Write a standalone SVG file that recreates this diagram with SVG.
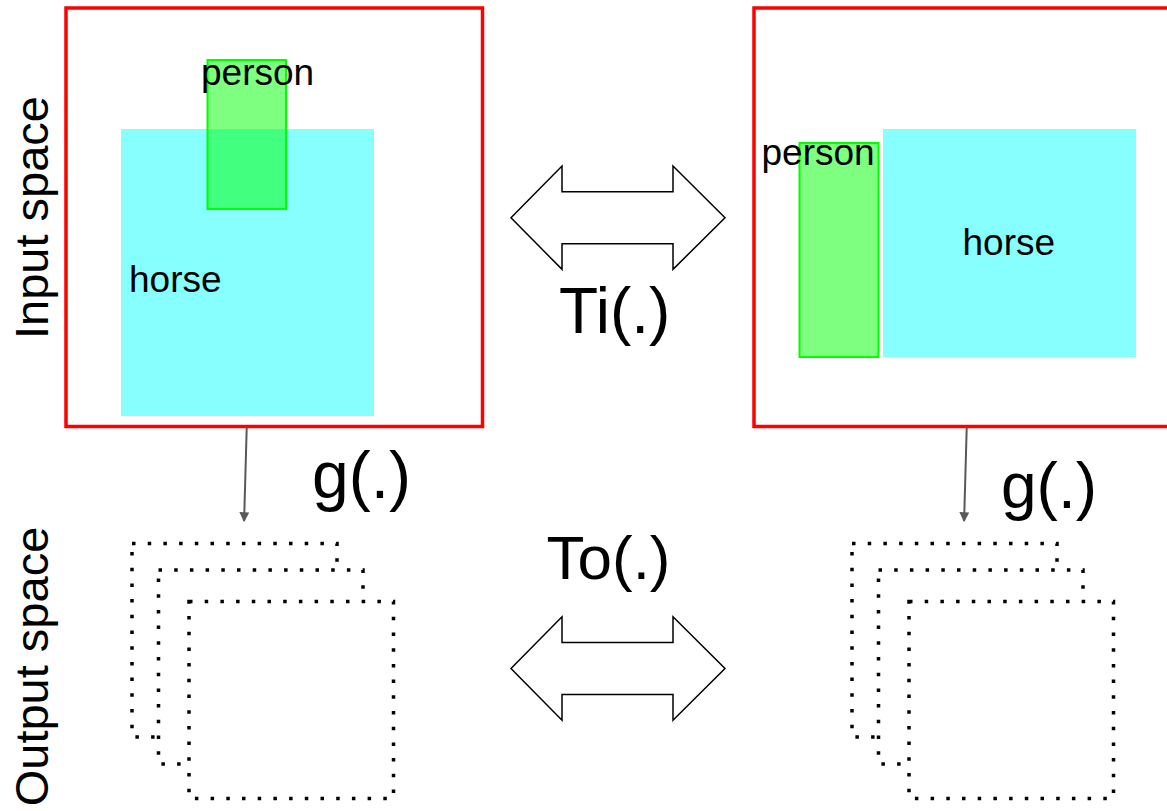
<svg xmlns="http://www.w3.org/2000/svg" width="1167" height="811" viewBox="0 0 1167 811">
<style>
  text { font-family: "Liberation Sans", Arial, sans-serif; fill: #000; }
  .frame { fill: none; stroke: #ff0000; stroke-width: 3.5; }
  .horse { fill: #00ffff; fill-opacity: 0.47; }
  .person { fill: #00ff00; fill-opacity: 0.5; stroke: #00ff00; stroke-width: 2; }
  .lbl { font-size: 37px; }
  .big { font-size: 64px; }
  .side { font-size: 47px; }
  .dots { fill: #ffffff; stroke: #000; stroke-width: 3.5; stroke-dasharray: 3.5 12.2; }
  .dbl { fill: #ffffff; stroke: #000; stroke-width: 1.5; stroke-linejoin: miter; }
  .conn { stroke: #595959; stroke-width: 2; fill: none; }
</style>
<defs>
  <marker id="ah" markerWidth="10" markerHeight="10" refX="7" refY="4" orient="auto" markerUnits="userSpaceOnUse" viewBox="0 0 8 8">
    <path d="M0,0 L8,4 L0,8 Z" fill="#595959"/>
  </marker>
  <path id="dblarrow" d="M0,0 L51,-51.7 L51,-26 L162,-26 L162,-51.7 L214,0 L162,51.7 L162,26 L51,26 L51,51.7 Z"/>
</defs>
<rect width="1167" height="811" fill="#ffffff"/>

<g id="label-input-space"><text class="side" transform="translate(48,217.5) rotate(-90)" text-anchor="middle">Input space</text></g>
<g id="label-output-space"><text class="side" transform="translate(48,666.5) rotate(-90)" text-anchor="middle">Output space</text></g>

<g id="input-left">
  <rect class="frame" x="66" y="8" width="416.5" height="418.5"/>
  <rect class="horse" x="121" y="129" width="253" height="287"/>
  <rect class="person" x="207.5" y="60" width="78.5" height="149"/>
  <text class="lbl" x="201" y="85">person</text>
  <text class="lbl" x="129" y="292">horse</text>
</g>

<g id="input-right">
  <rect class="frame" x="754" y="8" width="416.5" height="418.5"/>
  <rect class="horse" x="883" y="129" width="253" height="228"/>
  <rect class="person" x="799.5" y="143" width="79" height="214"/>
  <text class="lbl" x="761.5" y="165">person</text>
  <text class="lbl" x="962.5" y="255">horse</text>
</g>

<g id="transform-input">
  <use href="#dblarrow" class="dbl" x="511" y="217.7"/>
  <text class="big" x="559" y="333">Ti(.)</text>
</g>

<g id="transform-output">
  <text class="big" x="546.5" y="579" style="font-size:62px">To(.)</text>
  <use href="#dblarrow" class="dbl" x="511" y="668.5"/>
</g>

<g id="label-g-left"><text class="big" x="312" y="498" style="font-size:66px">g(.)</text></g>
<g id="label-g-right"><text class="big" x="1001" y="508">g(.)</text></g>

<g id="output-left">
  <rect class="dots" x="132" y="543.5" width="205" height="193.5"/>
  <rect class="dots" x="158.5" y="570" width="204.5" height="194"/>
  <rect class="dots" x="189" y="601.5" width="204.5" height="197"/>
</g>

<g id="output-right">
  <rect class="dots" x="852" y="543.5" width="205" height="193.5"/>
  <rect class="dots" x="878.5" y="570" width="204.5" height="194"/>
  <rect class="dots" x="909" y="601.5" width="204.5" height="197"/>
</g>

<g id="connectors">
  <line class="conn" x1="246.7" y1="428" x2="244.1" y2="521" marker-end="url(#ah)"/>
  <line class="conn" x1="966.7" y1="428" x2="964.1" y2="521" marker-end="url(#ah)"/>
</g>
</svg>
